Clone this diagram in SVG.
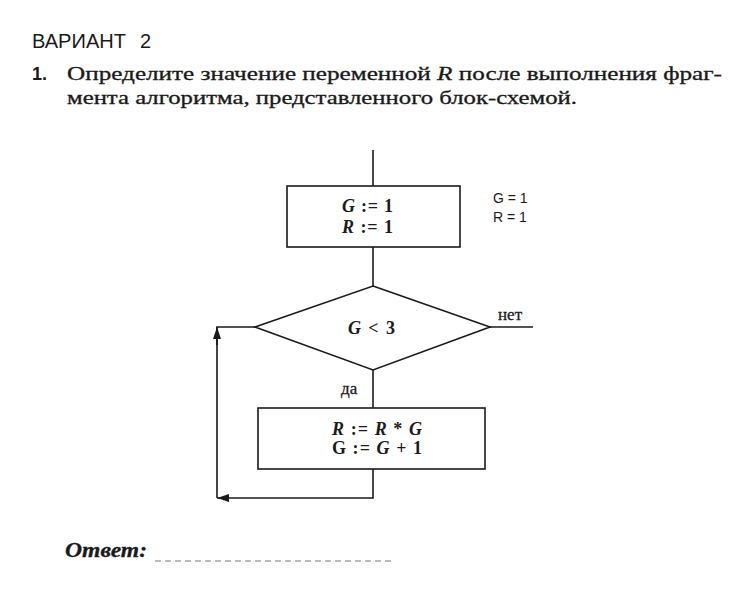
<svg xmlns="http://www.w3.org/2000/svg" width="737" height="611" viewBox="0 0 737 611">
<style>
.ln{stroke:#1a1a1a;stroke-width:1.6;fill:none}
.bx{stroke:#1a1a1a;stroke-width:1.6;fill:#fff}
.s{font-family:"Liberation Serif",serif;fill:#1a1a1a;stroke:#1a1a1a;stroke-width:0.3}
.f{font-family:"Liberation Serif",serif;font-size:18px;font-weight:bold;fill:#1a1a1a}
.a{font-family:"Liberation Sans",sans-serif;fill:#1a1a1a}
.i{font-style:italic}
</style>
<defs>
<marker id="ar" viewBox="0 0 12 8" refX="12" refY="4" markerWidth="12" markerHeight="8" markerUnits="userSpaceOnUse" orient="auto">
<path d="M0,0 L12,4 L0,8 Z" fill="#1a1a1a"/>
</marker>
</defs>
<rect width="737" height="611" fill="#fff"/>
<text class="a" x="32" y="48" font-size="20" textLength="94" lengthAdjust="spacingAndGlyphs">ВАРИАНТ</text>
<text class="a" x="140" y="48" font-size="20">2</text>
<text class="a" x="32" y="80" font-size="18" font-weight="bold">1.</text>
<text class="s" x="67" y="80" font-size="18" textLength="655" lengthAdjust="spacingAndGlyphs">Определите значение переменной <tspan class="i">R</tspan> после выполнения фраг-</text>
<text class="s" x="67" y="104" font-size="18" textLength="510" lengthAdjust="spacingAndGlyphs">мента алгоритма, представленного блок-схемой.</text>
<g id="connectors">
<line class="ln" x1="373" y1="150" x2="373" y2="186"/>
<line class="ln" x1="373" y1="247" x2="373" y2="286"/>
<line class="ln" x1="490" y1="327" x2="533" y2="327"/>
<line class="ln" x1="373" y1="370" x2="373" y2="408"/>
<polyline class="ln" points="373,469 373,498 217,498" marker-end="url(#ar)"/>
<polyline class="ln" points="217,498 217,327 255,327"/>
<line class="ln" x1="217" y1="345" x2="217" y2="327" marker-end="url(#ar)"/>
<text class="s" x="498" y="320" font-size="17">нет</text>
<text class="s" x="341" y="394" font-size="17">да</text>
</g>
<g id="init">
<rect class="bx" x="287" y="186" width="173" height="61"/>
<text class="f" x="342" y="212" textLength="51" lengthAdjust="spacing"><tspan class="i">G</tspan> := 1</text>
<text class="f" x="342" y="233" textLength="51" lengthAdjust="spacing"><tspan class="i">R</tspan> := 1</text>
</g>
<g id="cond">
<polygon class="bx" points="373,286 490,327 373,370 255,327"/>
<text class="f" x="348" y="334" textLength="47" lengthAdjust="spacing"><tspan class="i">G</tspan> &lt; 3</text>
</g>
<g id="body">
<rect class="bx" x="258" y="408" width="227" height="61"/>
<text class="f" x="332" y="435" textLength="90" lengthAdjust="spacing"><tspan class="i">R</tspan> := <tspan class="i">R</tspan> * <tspan class="i">G</tspan></text>
<text class="f" x="332" y="454" textLength="90" lengthAdjust="spacing">G := <tspan class="i">G</tspan> + 1</text>
</g>
<g id="note">
<text class="a" x="493" y="203" font-size="14">G = 1</text>
<text class="a" x="493" y="222" font-size="14">R = 1</text>
</g>
<text class="s" x="65" y="557" font-size="21" font-weight="bold" font-style="italic" textLength="82" lengthAdjust="spacingAndGlyphs">Ответ:</text>
<line x1="155" y1="561" x2="394" y2="561" stroke="#777" stroke-width="1" stroke-dasharray="6,4"/>
</svg>
